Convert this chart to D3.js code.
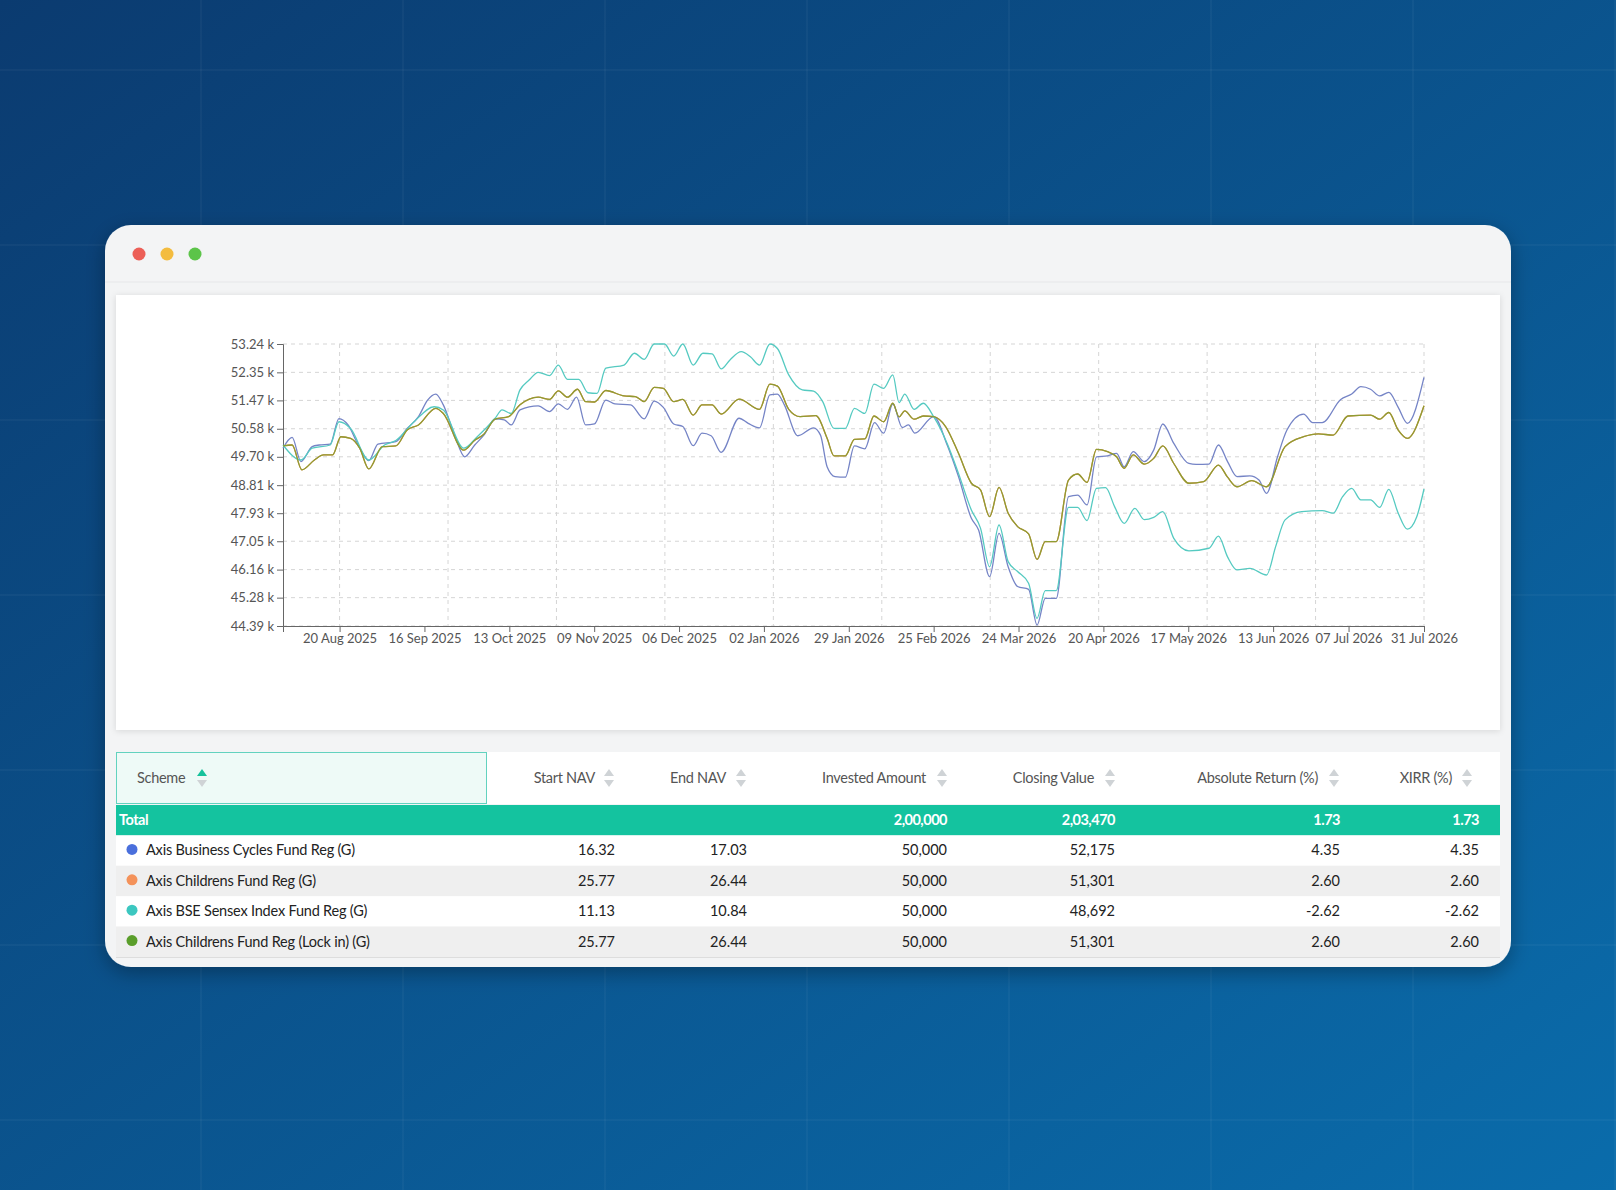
<!DOCTYPE html>
<html>
<head>
<meta charset="utf-8">
<script src="https://cdn.jsdelivr.net/npm/d3@7"></script>
<style>
  html, body { margin: 0; padding: 0; }
  body { width: 1616px; height: 1190px; overflow: hidden; font-family: Lato, "Open Sans", sans-serif; }
</style>
</head>
<body>
<div id="viz"></div>
<script>
const width = 1616;
const height = 1190;

const svg = d3.select("#viz")
  .append("svg")
  .attr("width", width)
  .attr("height", height);

const defs = svg.append("defs");

// Background gradient
const bg = defs.append("linearGradient")
  .attr("id", "bg-gradient")
  .attr("x1", "0%").attr("y1", "0%")
  .attr("x2", "100%").attr("y2", "100%");
bg.append("stop").attr("offset", "0%").attr("stop-color", "#0b3b70");
bg.append("stop").attr("offset", "100%").attr("stop-color", "#0a6cab");

const shadow = defs.append("filter").attr("id", "shadow")
  .attr("x", "-10%").attr("y", "-10%").attr("width", "120%").attr("height", "130%");
shadow.append("feDropShadow").attr("dx", 0).attr("dy", 6).attr("stdDeviation", 10)
  .attr("flood-color", "#000").attr("flood-opacity", 0.3);

const panelShadow = defs.append("filter").attr("id", "panel-shadow")
  .attr("x", "-5%").attr("y", "-5%").attr("width", "110%").attr("height", "115%");
panelShadow.append("feDropShadow").attr("dx", 0).attr("dy", 1).attr("stdDeviation", 3)
  .attr("flood-color", "#000").attr("flood-opacity", 0.12);

svg.append("rect").attr("width", width).attr("height", height).attr("fill", "url(#bg-gradient)");

// faint background grid
const bgGrid = svg.append("g").attr("stroke", "#ffffff").attr("stroke-opacity", 0.07).attr("stroke-width", 1);
d3.range(0, 8).forEach(i => bgGrid.append("line")
  .attr("x1", 201 + i * 202).attr("x2", 201 + i * 202).attr("y1", 0).attr("y2", height));
d3.range(0, 7).forEach(i => bgGrid.append("line")
  .attr("x1", 0).attr("x2", width).attr("y1", 70 + i * 175).attr("y2", 70 + i * 175));

// Window card
const card = { x: 105, y: 225, w: 1406, h: 742 };
svg.append("rect")
  .attr("x", card.x).attr("y", card.y).attr("width", card.w).attr("height", card.h)
  .attr("rx", 26).attr("fill", "#f3f4f5").attr("filter", "url(#shadow)");

[["#ec5f57", 139], ["#f3bc3f", 167], ["#5cc449", 195]].forEach(([c, x]) => {
  svg.append("circle").attr("cx", x).attr("cy", 254).attr("r", 6.5).attr("fill", c);
});
svg.append("line").attr("x1", card.x).attr("x2", card.x + card.w).attr("y1", 282).attr("y2", 282)
  .attr("stroke", "#e6e7e9");

// Chart panel
svg.append("rect")
  .attr("x", 116).attr("y", 295).attr("width", 1384).attr("height", 435)
  .attr("fill", "#ffffff").attr("filter", "url(#panel-shadow)");

// ---------------- Data ----------------
// [day offset from 02 Aug 2025, value in thousands]
const baseDate = new Date(2025, 7, 2);
const blueData = [
  [0,49.97],[2.9,50.31],[5.7,49.55],[9.3,50.02],[11.5,50.07],[15,50.10],[17.8,50.90],[20.7,50.70],
  [23.7,50.12],[27.3,49.58],[30.2,50.10],[35.9,50.18],[39.5,50.59],[43.1,50.96],[46,51.48],[48.6,51.67],
  [51,51.33],[54.6,50.38],[57.8,49.70],[61,50.07],[63.9,50.38],[67.5,50.89],[70.4,50.86],[72.6,50.70],
  [75.4,51.17],[81.2,51.30],[84.8,51.12],[87.6,51.36],[90.5,51.19],[93.4,51.57],[96.3,50.70],[99.1,50.73],
  [102.7,51.48],[105.6,51.36],[110.6,51.33],[114.9,50.89],[118.1,51.45],[121,51.25],[124.3,50.73],
  [127.2,50.65],[130.5,50.05],[133.3,50.44],[136.2,50.36],[139.4,49.84],[145.1,50.91],[148,50.75],
  [151.6,50.61],[154.9,51.64],[157.3,51.67],[159.5,51.33],[163.8,50.36],[168.8,50.61],[171,50.38],
  [173.1,49.39],[175.6,49.08],[178.9,49.06],[181.8,50.04],[185.1,49.95],[188.2,50.77],[191.1,50.44],
  [194,51.36],[197,50.62],[199,50.70],[201,50.44],[207,50.96],[211.3,50.07],[214.9,49.08],[219,47.77],
  [221.3,47.40],[224.8,45.94],[227.8,47.30],[230.7,46.25],[233.7,45.63],[237.2,45.54],[239.9,44.42],
  [242.5,45.26],[246,45.26],[249.9,48.45],[252.8,48.50],[255.8,48.19],[258.8,49.70],[262.3,49.73],
  [265.2,49.81],[267.6,49.39],[270.5,49.86],[274,49.55],[277,49.91],[279.9,50.73],[283.4,50.12],
  [288.2,49.49],[290.5,49.46],[294.6,49.47],[297.6,50.07],[300.5,49.55],[303.5,49.08],[307.6,49.10],
  [310.5,48.97],[312.9,48.55],[316.4,49.70],[319.4,50.54],[324.7,51.04],[327.6,50.77],[330.6,50.77],
  [336.5,51.50],[340,51.67],[342.9,51.90],[346,51.82],[348.9,51.61],[351.8,51.72],[354.8,51.25],
  [357.7,50.75],[363,52.19]
];
const tealData = [
  [0,50.07],[5.7,49.60],[9.3,49.97],[15,50.07],[17.8,50.80],[21.5,50.59],[27.3,49.60],[32.3,50.07],
  [35.9,50.21],[41.7,50.80],[48.1,51.27],[51,51.17],[57.5,49.97],[61.8,50.33],[67.5,50.91],[69.7,51.17],
  [72.6,51.06],[75.4,51.80],[78.3,52.11],[81.2,52.35],[84.8,52.25],[87.6,52.58],[90.5,52.13],[94.1,52.13],
  [97,51.71],[99.9,51.69],[102.7,52.48],[108.5,52.58],[111.8,52.95],[114.9,52.76],[118.1,53.24],
  [121.4,53.24],[124.3,52.86],[127.2,53.24],[130.5,52.58],[133.6,52.95],[136.5,52.93],[139.4,52.46],
  [142.2,52.74],[145.8,53.00],[148.7,52.84],[151.6,52.58],[154.9,53.24],[157.3,53.10],[160.9,52.27],
  [165.2,51.80],[168.8,51.76],[171.7,51.43],[175.3,50.59],[178.9,50.59],[181.8,51.22],[185.1,51.06],
  [188,51.98],[191.1,51.85],[194,52.27],[196,51.40],[197.8,51.67],[200.8,51.19],[203.7,51.38],
  [207,50.96],[211.3,50.12],[214.9,49.18],[219,48.03],[221.9,47.46],[224.8,46.25],[227.8,47.56],
  [230.7,46.41],[233.7,46.10],[237.2,45.73],[239.9,44.63],[242.5,45.50],[246,45.50],[249.9,48.11],
  [252.8,48.11],[255.8,47.70],[258.8,48.71],[261.7,48.73],[264.6,48.13],[267.6,47.61],[271,48.08],
  [274,47.73],[277,47.80],[279.9,47.98],[283.4,47.14],[288.2,46.75],[294.6,46.83],[297.6,47.21],
  [300.5,46.56],[303.5,46.15],[307.6,46.20],[312.9,45.99],[315.8,46.88],[318.8,47.72],[324.1,47.98],
  [330.6,48.01],[334.1,47.93],[337.1,48.45],[340,48.71],[342.9,48.35],[346,48.35],[348.9,48.11],
  [351.8,48.68],[354.8,47.93],[357.7,47.43],[360.7,47.82],[363,48.69]
];
const greenData = [
  [0,50.04],[2.9,50.07],[6,49.29],[10,49.60],[12.9,49.76],[15.8,49.76],[18.4,50.33],[21.5,50.28],
  [24.4,49.97],[27.3,49.32],[31.6,50.02],[35.9,50.04],[39.5,50.54],[43.1,50.70],[48.6,51.22],[51,51.06],
  [57.5,49.91],[61,50.22],[63.9,50.41],[67.5,50.88],[71.8,50.96],[75.4,51.33],[81.2,51.57],[84.8,51.50],
  [87.6,51.77],[90.5,51.57],[93.7,51.82],[96.3,51.43],[99.1,51.42],[102.7,51.78],[108.5,51.61],
  [112.1,51.59],[114.9,51.43],[118.1,51.88],[121,51.85],[124.3,51.43],[127.2,51.50],[130.5,51.01],
  [133.3,51.33],[136.5,51.33],[139.4,51.04],[145.1,51.51],[151.6,51.19],[154.9,51.98],[157.3,51.92],
  [160.9,51.19],[164.5,50.96],[169.5,50.99],[173.1,50.28],[175.3,49.73],[178.9,49.73],[181.8,50.25],
  [185.1,50.26],[188,50.98],[191.1,50.80],[194,51.38],[196,50.95],[197.8,51.14],[200.8,50.88],
  [203.7,50.98],[207,50.96],[210.8,50.65],[214.9,49.81],[219,48.87],[221.9,48.66],[224.8,47.82],
  [227.8,48.74],[230.7,47.93],[233.7,47.51],[237.2,47.28],[239.9,46.48],[242.5,47.04],[246,47.04],
  [249.9,48.97],[252.8,49.16],[255.8,48.90],[258.8,49.93],[262.3,49.86],[265.2,49.70],[267.6,49.34],
  [270.5,49.76],[274,49.47],[277,49.65],[279.9,50.04],[283.4,49.49],[288.2,48.87],[292.9,48.92],
  [297.6,49.44],[300.5,49.06],[303.5,48.76],[308.2,48.95],[312.9,48.76],[318.8,50.02],[324.7,50.33],
  [329.4,50.42],[334.1,50.38],[338.8,50.98],[346,51.01],[348.9,50.88],[351.8,51.09],[354.8,50.54],
  [357.7,50.28],[363,51.30]
];

const toDate = d => new Date(baseDate.getTime() + d * 864e5);
const series = [
  { name: "Axis Childrens Fund Reg (G)", color: "#f08a50", data: greenData },
  { name: "Axis Business Cycles Fund Reg (G)", color: "#7584c6", data: blueData },
  { name: "Axis BSE Sensex Index Fund Reg (G)", color: "#55cac1", data: tealData },
  { name: "Axis Childrens Fund Reg (Lock in) (G)", color: "#8d9d33", data: greenData }
];

// ---------------- Chart ----------------
const plot = { left: 283, right: 1424, top: 344, bottom: 626 };
const x = d3.scaleTime()
  .domain([baseDate, new Date(2026, 6, 31)])
  .range([plot.left, plot.right]);
const y = d3.scaleLinear()
  .domain([44.39, 53.24])
  .range([plot.bottom, plot.top]);

const yTicks = [44.39, 45.28, 46.16, 47.05, 47.93, 48.81, 49.70, 50.58, 51.47, 52.35, 53.24];
const xTicks = ["2025-08-20","2025-09-16","2025-10-13","2025-11-09","2025-12-06","2026-01-02",
  "2026-01-29","2026-02-25","2026-03-24","2026-04-20","2026-05-17","2026-06-13","2026-07-07","2026-07-31"]
  .map(s => { const [a, b, c] = s.split("-").map(Number); return new Date(a, b - 1, c); });

const g = svg.append("g");

// horizontal grid
g.selectAll(".hgrid").data(yTicks).join("line")
  .attr("x1", plot.left).attr("x2", plot.right)
  .attr("y1", d => y(d)).attr("y2", d => y(d))
  .attr("stroke", "#d5d5d5").attr("stroke-dasharray", "4,4");

// vertical grid (10 equal steps from first tick to end)
const gx0 = x(xTicks[0]);
d3.range(0, 11).forEach(i => {
  const gxv = gx0 + (plot.right - gx0) * i / 10;
  g.append("line").attr("x1", gxv).attr("x2", gxv).attr("y1", plot.top).attr("y2", plot.bottom)
    .attr("stroke", "#d5d5d5").attr("stroke-dasharray", "4,4");
});

const yAxis = g.append("g")
  .attr("transform", `translate(${plot.left},0)`)
  .call(d3.axisLeft(y).tickValues(yTicks).tickSize(6).tickPadding(3)
    .tickFormat(d => d3.format(".2f")(d) + " k"));
const xAxis = g.append("g")
  .attr("transform", `translate(0,${plot.bottom})`)
  .call(d3.axisBottom(x).tickValues(xTicks).tickSize(6).tickPadding(2)
    .tickFormat(d3.timeFormat("%d %b %Y")));
[yAxis, xAxis].forEach(a => {
  a.selectAll("text").attr("fill", "#555").attr("font-size", "13px").attr("font-family", "Lato, sans-serif");
  a.selectAll("line").attr("stroke", "#666");
  a.select(".domain").attr("stroke", "#666");
});

const line = d3.line()
  .x(d => x(toDate(d[0])))
  .y(d => y(d[1]))
  .curve(d3.curveMonotoneX);

g.selectAll(".series").data(series).join("path")
  .attr("d", d => line(d.data))
  .attr("fill", "none")
  .attr("stroke", d => d.color)
  .attr("stroke-width", 1.3);

// ---------------- Table ----------------
const table = svg.append("g").attr("font-family", "Lato, sans-serif");
const tLeft = 116, tRight = 1500;

const columns = [
  { key: "start", label: "Start NAV", right: 615, iconX: 609, textEnd: 595 },
  { key: "end", label: "End NAV", right: 747, iconX: 741, textEnd: 726 },
  { key: "invested", label: "Invested Amount", right: 947, iconX: 942, textEnd: 926 },
  { key: "closing", label: "Closing Value", right: 1115, iconX: 1110, textEnd: 1094 },
  { key: "abs", label: "Absolute Return (%)", right: 1340, iconX: 1334, textEnd: 1318 },
  { key: "xirr", label: "XIRR (%)", right: 1479, iconX: 1467, textEnd: 1452 }
];

const rows = [
  { name: "Axis Business Cycles Fund Reg (G)", dot: "#4a6fdc", start: "16.32", end: "17.03", invested: "50,000", closing: "52,175", abs: "4.35", xirr: "4.35" },
  { name: "Axis Childrens Fund Reg (G)", dot: "#f4925a", start: "25.77", end: "26.44", invested: "50,000", closing: "51,301", abs: "2.60", xirr: "2.60" },
  { name: "Axis BSE Sensex Index Fund Reg (G)", dot: "#3cc7c0", start: "11.13", end: "10.84", invested: "50,000", closing: "48,692", abs: "-2.62", xirr: "-2.62" },
  { name: "Axis Childrens Fund Reg (Lock in) (G)", dot: "#5a9e2a", start: "25.77", end: "26.44", invested: "50,000", closing: "51,301", abs: "2.60", xirr: "2.60" }
];
const total = { invested: "2,00,000", closing: "2,03,470", abs: "1.73", xirr: "1.73" };

// header
const headY = 752, headH = 52;
table.append("rect").attr("x", tLeft).attr("y", headY).attr("width", tRight - tLeft).attr("height", headH).attr("fill", "#ffffff");
table.append("rect").attr("x", tLeft + 0.5).attr("y", headY + 0.5).attr("width", 370).attr("height", headH - 1)
  .attr("fill", "#eefaf7").attr("stroke", "#62d2bf");

function sortIcon(cx, cy, activeUp) {
  table.append("path").attr("d", `M${cx - 5},${cy - 2} L${cx + 5},${cy - 2} L${cx},${cy - 9} Z`)
    .attr("fill", activeUp ? "#16c29c" : "#cfd3d6");
  table.append("path").attr("d", `M${cx - 5},${cy + 2} L${cx + 5},${cy + 2} L${cx},${cy + 9} Z`)
    .attr("fill", "#cfd3d6");
}

const headTextY = headY + 31;
table.append("text").attr("x", 137).attr("y", headTextY).attr("font-size", "14.5px").attr("fill", "#555").attr("letter-spacing", "-0.3").text("Scheme");
sortIcon(202, headY + 26, true);
columns.forEach(c => {
  table.append("text").attr("x", c.textEnd).attr("y", headTextY).attr("text-anchor", "end")
    .attr("font-size", "14.5px").attr("fill", "#555").attr("letter-spacing", "-0.3").text(c.label);
  sortIcon(c.iconX, headY + 26, false);
});

// total row
const totY = 805, rowH = 30.4;
table.append("rect").attr("x", tLeft).attr("y", totY).attr("width", tRight - tLeft).attr("height", rowH).attr("fill", "#14c39f");
table.append("text").attr("x", 119).attr("y", totY + 20).attr("font-size", "14.5px").attr("font-weight", "bold")
  .attr("fill", "#fff").attr("letter-spacing", "-0.5").text("Total");
columns.forEach(c => {
  if (total[c.key]) table.append("text").attr("x", c.right).attr("y", totY + 20).attr("text-anchor", "end")
    .attr("font-size", "14.5px").attr("font-weight", "bold").attr("fill", "#fff").attr("letter-spacing", "-0.5")
    .text(total[c.key]);
});

rows.forEach((r, i) => {
  const ry = totY + rowH * (i + 1);
  table.append("rect").attr("x", tLeft).attr("y", ry).attr("width", tRight - tLeft).attr("height", rowH)
    .attr("fill", i % 2 ? "#efefef" : "#ffffff");
  table.append("circle").attr("cx", 132).attr("cy", ry + 14).attr("r", 5.5).attr("fill", r.dot);
  table.append("text").attr("x", 146).attr("y", ry + 20).attr("font-size", "14.5px").attr("fill", "#222")
    .attr("letter-spacing", "-0.2").text(r.name);
  columns.forEach(c => {
    table.append("text").attr("x", c.right).attr("y", ry + 20).attr("text-anchor", "end")
      .attr("font-size", "14.5px").attr("fill", "#222").text(r[c.key]);
  });
});
table.append("line").attr("x1", tLeft).attr("x2", tRight).attr("y1", totY + rowH * 5 + 0.5).attr("y2", totY + rowH * 5 + 0.5)
  .attr("stroke", "#dddddd");
</script>
</body>
</html>
